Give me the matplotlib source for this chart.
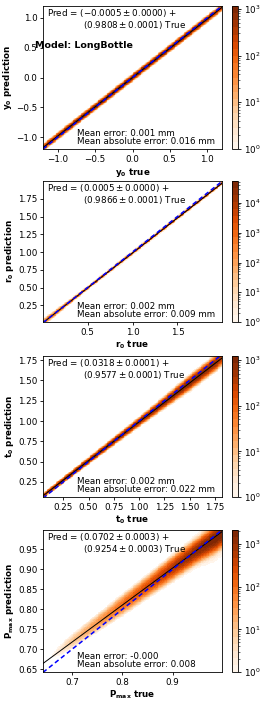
import numpy as np
import matplotlib
matplotlib.use("Agg")
import matplotlib.pyplot as plt
from matplotlib.colors import LogNorm

# fit results shown in each panel
labels = ["y_0", "r_0", "t_0", "P_{max}"]
intercept = [-0.0005, 0.0005, 0.0318, 0.0702]
intercept_err = [0.0000, 0.0000, 0.0001, 0.0003]
slope = [0.9808, 0.9866, 0.9577, 0.9254]
slope_err = [0.0001, 0.0001, 0.0001, 0.0003]
mean_err = ["0.001 mm", "0.002 mm", "0.002 mm", "-0.000"]
mean_abs_err = ["0.016 mm", "0.009 mm", "0.022 mm", "0.008"]

xlims = [(-1.2, 1.2), (0.005, 1.995), (0.05, 1.82), (0.642, 0.998)]
ylims = [(-1.2, 1.2), (0.015, 2.0), (0.065, 1.80), (0.643, 0.998)]
cmax = [1150, 55000, 1230, 2150]

xticks = [[-1.0, -0.5, 0.0, 0.5, 1.0], [0.5, 1.0, 1.5],
          [0.25, 0.5, 0.75, 1.0, 1.25, 1.5, 1.75], [0.7, 0.8, 0.9]]
yticks = [[-1.0, -0.5, 0.0, 0.5, 1.0],
          [0.25, 0.5, 0.75, 1.0, 1.25, 1.5, 1.75],
          [0.25, 0.5, 0.75, 1.0, 1.25, 1.5, 1.75],
          [0.65, 0.7, 0.75, 0.8, 0.85, 0.9, 0.95]]

# point cloud around the fit line, read at a few x positions:
# peak counts per bin, spread (sigma) and offset of the cloud from the fit line
band_x = [[-1.2, -0.9, -0.5, 0.0, 0.5, 0.9, 1.2],
          [0.0, 0.1, 0.3, 0.5, 1.0, 1.5, 2.0],
          [0.05, 0.25, 0.5, 0.75, 1.0, 1.25, 1.5, 1.75, 1.82],
          [0.642, 0.67, 0.70, 0.75, 0.80, 0.85, 0.90, 0.95, 0.98, 1.0]]
band_peak = [[300, 700, 1000, 1100, 1000, 700, 300],
             [400, 600, 1500, 3000, 5000, 5000, 3000],
             [250, 700, 900, 900, 700, 800, 900, 700, 350],
             [0.3, 2, 10, 35, 110, 280, 650, 1400, 2100, 2100]]
band_sigma = [[0.022, 0.021, 0.02, 0.02, 0.02, 0.021, 0.022],
              [0.018, 0.015, 0.01, 0.007, 0.0065, 0.0065, 0.0065],
              [0.012, 0.013, 0.014, 0.016, 0.019, 0.024, 0.03, 0.032, 0.032],
              [0.009, 0.009, 0.009, 0.009, 0.0095, 0.0095, 0.010, 0.010, 0.011, 0.011]]
band_shift = [[0, 0, 0, 0, 0, 0, 0],
              [0, 0, 0, 0, 0, 0, 0],
              [0, 0, 0, 0, 0, 0, 0, 0, 0],
              [0.002, 0.002, 0.002, 0.001, 0, 0, 0, -0.002, -0.005, -0.006]]

W, H = 266, 703
fig = plt.figure(figsize=(W / 100, H / 100), dpi=100)
plt.rcParams['font.size'] = 6.35

tops = [6, 181, 356, 530]
bottoms = [149, 322, 497, 672]
cmap = plt.get_cmap('Oranges', 20)
nb = 200

for i in range(4):
    t, b = tops[i], bottoms[i]
    ax = fig.add_axes([43 / W, (H - b) / H, 179 / W, (b - t) / H])
    cax = fig.add_axes([232 / W, (H - b) / H, 6 / W, (b - t) / H])

    xe = np.linspace(xlims[i][0], xlims[i][1], nb + 1)
    ye = np.linspace(ylims[i][0], ylims[i][1], nb + 1)
    X, Y = np.meshgrid(0.5 * (xe[1:] + xe[:-1]), 0.5 * (ye[1:] + ye[:-1]))
    peak = 10 ** np.interp(X, band_x[i], np.log10(band_peak[i]))
    sig = np.interp(X, band_x[i], band_sigma[i])
    shift = np.interp(X, band_x[i], band_shift[i])
    d = (Y - (intercept[i] + slope[i] * X) - shift) / sig
    counts = peak * (np.exp(-0.5 * d ** 2) + 0.002 * np.exp(-0.5 * (d / 3) ** 2))
    counts = np.ma.masked_less(counts, 1)
    mesh = ax.pcolormesh(xe, ye, counts, cmap=cmap,
                         norm=LogNorm(vmin=1, vmax=cmax[i]), rasterized=True)

    xx = np.array(xlims[i])
    ax.plot(xx, intercept[i] + slope[i] * xx, color='black', lw=0.7)
    ax.plot(xx, xx, color='blue', lw=1.1, ls='--', dashes=(3, 2))

    ax.set_xlim(xlims[i])
    ax.set_ylim(ylims[i])
    ax.set_xticks(xticks[i])
    ax.set_yticks(yticks[i])
    ax.tick_params(length=2.5, width=0.6, pad=1.5)
    for s in ax.spines.values():
        s.set_linewidth(0.6)
    ax.set_xlabel(r"$\mathbf{%s}$ true" % labels[i], fontweight='bold', labelpad=1.5)
    ax.set_ylabel(r"$\mathbf{%s}$ prediction" % labels[i], fontweight='bold', labelpad=1.5)

    a = "%.4f" % intercept[i]
    txt = (r"Pred = $(%s \pm %.4f)$ +" % (a, intercept_err[i]) + "\n" +
           "             " + r"$(%.4f \pm %.4f)$ True" % (slope[i], slope_err[i]))
    ax.text(0.02, 0.99, txt, transform=ax.transAxes, va='top', ha='left',
            linespacing=0.95)
    ax.text(0.19, 0.02, "Mean error: %s\nMean absolute error: %s" % (mean_err[i], mean_abs_err[i]),
            transform=ax.transAxes, va='bottom', ha='left', linespacing=0.9)

    cb = fig.colorbar(mesh, cax=cax)
    cb.outline.set_linewidth(0.6)
    cax.tick_params(which='major', length=2.5, width=0.6, pad=1.5)
    cax.tick_params(which='minor', length=1.5, width=0.4)

fig.text(35 / W, 1 - 45 / H, "Model: LongBottle", fontweight='bold', fontsize=6.8,
         va='center', ha='left')

fig.savefig("out.png", dpi=100)
